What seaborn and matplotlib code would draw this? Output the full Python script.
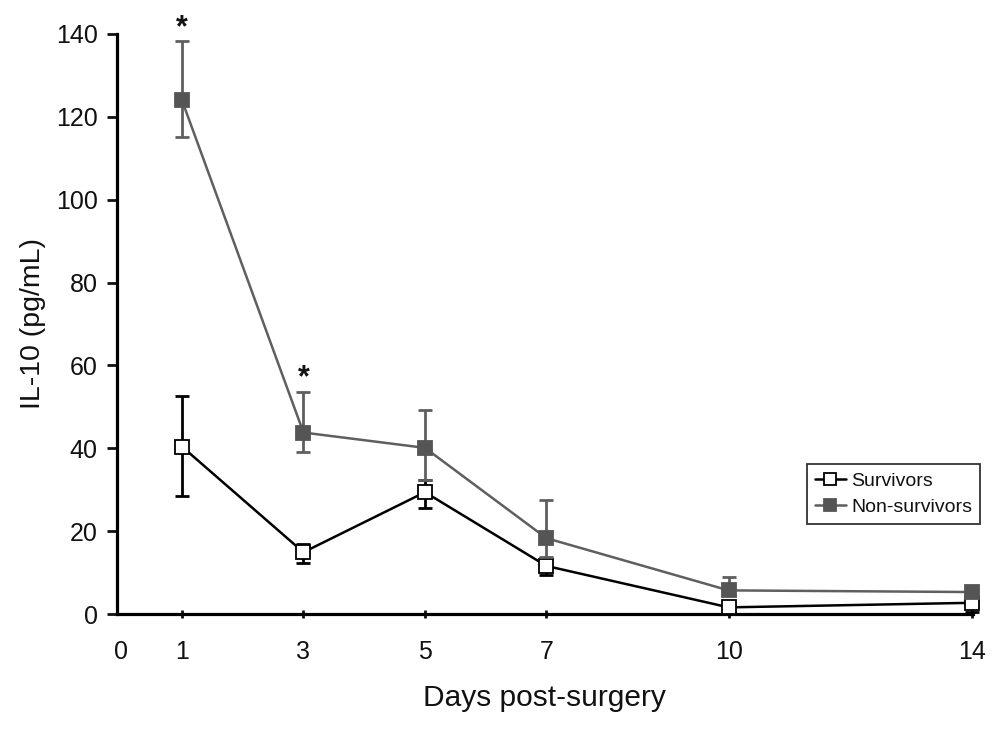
import numpy as np
import pandas as pd
import matplotlib
matplotlib.use("Agg")
import matplotlib.pyplot as plt
import seaborn as sns

# data
days = [1, 3, 5, 7, 10, 14]
surv_mean = [40.4, 14.9, 29.4, 11.6, 1.6, 2.7]
surv_upper = [52.6, 16.8, 32.3, 13.4, 2.5, 3.3]
surv_lower = [28.4, 12.2, 25.6, 9.3, 0.6, 0.4]
non_mean = [124.0, 43.8, 40.1, 18.3, 5.7, 5.3]
non_upper = [138.2, 53.6, 49.3, 27.6, 8.9, 5.9]
non_lower = [115.1, 39.1, 32.3, 13.8, 4.5, 4.7]
star_days = [1, 3]
star_y = [141.5, 57.0]
xtick_days = [0, 1, 3, 5, 7, 10, 14]

sns.set_style("white")
plt.rcParams["font.family"] = ["Liberation Sans", "DejaVu Sans"]
plt.rcParams["text.color"] = "#111111"
plt.rcParams["axes.labelcolor"] = "#111111"
plt.rcParams["xtick.color"] = "#111111"
plt.rcParams["ytick.color"] = "#111111"

df = pd.DataFrame({
    "day": days * 2,
    "il10": surv_mean + non_mean,
    "group": ["Survivors"] * len(days) + ["Non-survivors"] * len(days),
})

fig = plt.figure(figsize=(10.04, 7.32), dpi=100)
ax = fig.add_axes([0.1165, 0.1612, 0.8525, 0.7924])

styles = {
    "Survivors": dict(color="black", mfc="white", mec="black", err=(surv_mean, surv_lower, surv_upper), z=3),
    "Non-survivors": dict(color="#5f5f5f", mfc="#555555", mec="#555555", err=(non_mean, non_lower, non_upper), z=4),
}

for name, st in styles.items():
    m, lo, hi = st["err"]
    ax.errorbar(days, m, yerr=[np.subtract(m, lo), np.subtract(hi, m)], fmt="none",
                ecolor=st["color"], elinewidth=2, capsize=5, capthick=2,
                zorder=st["z"] - 1, clip_on=False)
    sub = df[df["group"] == name]
    sns.lineplot(data=sub, x="day", y="il10", ax=ax, color=st["color"], lw=1.8,
                 marker="s", markersize=10, markerfacecolor=st["mfc"],
                 markeredgecolor=st["mec"], markeredgewidth=1.3, label=name,
                 zorder=st["z"], clip_on=False)

for d, y in zip(star_days, star_y):
    ax.text(d, y, "*", ha="center", va="center", fontsize=22, fontweight="bold")

ax.set_xlim(-0.07, 14.02)
ax.set_ylim(0, 140)
ax.set_yticks(np.arange(0, 141, 20))
ax.set_xticks(xtick_days)
ax.set_xticklabels([str(d) for d in xtick_days])

for side in ["top", "right"]:
    ax.spines[side].set_visible(False)
for side in ["left", "bottom"]:
    ax.spines[side].set_linewidth(2.3)
    ax.spines[side].set_color("black")

ax.tick_params(axis="y", direction="out", length=7, width=2, pad=7, labelsize=18, left=True)
ax.tick_params(axis="x", direction="inout", length=6, width=2, pad=16, labelsize=18, bottom=True)
ax.xaxis.get_major_ticks()[0].tick1line.set_visible(False)

ax.set_xlabel("Days post-surgery", fontsize=21.5, labelpad=14)
ax.set_ylabel("IL-10 (pg/mL)", fontsize=20.5, labelpad=7)

leg = ax.legend(loc="upper left", bbox_to_anchor=(0.806, 0.258), fontsize=14,
                frameon=True, fancybox=False, edgecolor="black", handlelength=1.6,
                handletextpad=0.3, borderpad=0.4, labelspacing=0.45, borderaxespad=0,
                markerscale=0.8)
leg.get_frame().set_linewidth(1.3)

fig.savefig("out.png", dpi=100)
